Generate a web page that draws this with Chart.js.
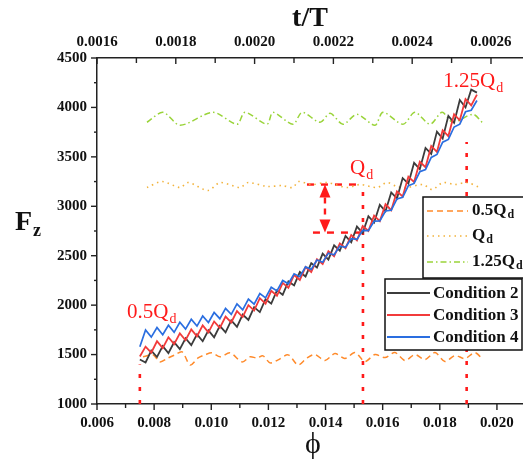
<!DOCTYPE html>
<html>
<head>
<meta charset="utf-8">
<script src="https://cdn.jsdelivr.net/npm/chart.js@4.4.1/dist/chart.umd.min.js"></script>
<style>
  html, body { margin: 0; padding: 0; background: #fff; overflow: hidden; }
  #wrap { width: 560px; height: 465px; }
</style>
</head>
<body>
<div id="wrap"><canvas id="fzChart" width="560" height="465"></canvas></div>
<script>
// phi positions of the three conditions
const phi = [0.0075,0.0077,0.0079,0.0081,0.0083,0.0085,0.0087,0.0089,0.0091,0.0093,
  0.0095,0.0097,0.0099,0.0101,0.0103,0.0105,0.0107,0.0109,0.0111,0.0113,
  0.0115,0.0117,0.0119,0.0121,0.0123,0.0125,0.0127,0.0129,0.0131,0.0133,
  0.0135,0.0137,0.0139,0.0141,0.0143,0.0145,0.0147,0.0149,0.0151,0.0153,
  0.0155,0.0157,0.0159,0.0161,0.0163,0.0165,0.0167,0.0169,0.0171,0.0173,
  0.0175,0.0177,0.0179,0.0181,0.0183,0.0185,0.0187,0.0189,0.0191,0.0193];

const condition2 = [1450,1420,1540,1475,1585,1515,1625,1555,1665,1595,
  1705,1635,1745,1675,1790,1725,1845,1780,1905,1850,
  1980,1930,2060,2015,2150,2105,2240,2200,2335,2290,
  2425,2380,2520,2460,2605,2550,2700,2635,2795,2730,
  2900,2835,3015,2950,3140,3080,3285,3230,3440,3375,
  3590,3530,3755,3685,3915,3845,4075,4000,4180,4150];

const condition3 = [1480,1580,1520,1635,1565,1675,1605,1715,1645,1755,
  1685,1795,1725,1835,1770,1885,1825,1940,1880,2000,
  1945,2070,2015,2145,2095,2225,2175,2305,2255,2385,
  2335,2465,2415,2545,2495,2625,2575,2710,2655,2800,
  2750,2905,2850,3020,2960,3150,3100,3300,3245,3450,
  3395,3610,3550,3770,3710,3930,3870,4085,4020,4130];

const condition4 = [1580,1749,1677,1773,1701,1797,1725,1827,1758,1857,
  1788,1890,1824,1926,1863,1967,1906,2012,1953,2062,
  2010,2118,2074,2181,2144,2249,2216,2317,2288,2387,
  2362,2456,2434,2526,2509,2597,2585,2673,2665,2756,
  2754,2849,2853,2952,2961,3074,3091,3209,3231,3349,
  3371,3494,3524,3649,3676,3802,3831,3956,3971,4070];

// reference load lines
const phiHalfQd = [0.00761,0.00796,0.0082,0.00849,0.00873,0.00898,0.00926,0.00954,0.00978,0.01003,
  0.01031,0.01066,0.01108,0.01136,0.0116,0.01181,0.01206,0.01234,0.01269,0.01304,
  0.01335,0.01363,0.01398,0.01433,0.01468,0.01503,0.01538,0.01573,0.01608,0.01643,
  0.01678,0.01713,0.01748,0.01783,0.01818,0.01853,0.01888,0.01923,0.01951];
const halfQd = [1477,1497,1426,1466,1497,1527,1395,1466,1497,1517,
  1477,1517,1426,1477,1466,1487,1416,1446,1497,1395,
  1466,1500,1440,1510,1460,1520,1430,1500,1470,1520,
  1440,1500,1450,1520,1430,1490,1460,1520,1450];

const phiQd = [0.00775,0.00828,0.00891,0.00919,0.00989,0.01031,0.01101,0.01129,0.01198,0.01248,
  0.01286,0.01304,0.01353,0.01405,0.01475,0.01521,0.0158,0.01615,0.0165,0.01685,
  0.01741,0.01773,0.01811,0.01853,0.01895,0.0194];
const qd = [3190,3250,3190,3240,3160,3240,3190,3240,3200,3210,
  3190,3250,3220,3240,3190,3220,3190,3240,3200,3190,
  3220,3170,3240,3220,3240,3190];

const phiQuarterQd = [0.00775,0.00831,0.00891,0.01006,0.0109,0.01118,0.01195,0.01216,0.01286,0.01318,
  0.01381,0.01416,0.01461,0.0151,0.01573,0.01601,0.01671,0.01713,0.01766,0.01808,
  0.01846,0.01916,0.01951];
const quarterQd = [3850,3950,3820,3950,3830,3950,3830,3950,3830,3950,
  3850,3940,3830,3930,3820,3950,3830,3950,3830,3950,
  3850,3930,3840];

// red markers: vertical dotted lines and the Qd bracket
const markerPhi = [0.0075, 0.01531, 0.01894];
const markerTop = [1400, 3220, 3650];
const markerLabels = ['0.5Q', 'Q', '1.25Q'];
const bracketPhi = [0.01335, 0.01356, 0.01398];
const bracketF = [3220, 2734];

// axis ranges
const phiRange = [0.006, 0.021];
const tRange = [0.0016, 0.0026876];
const fRange = [1000, 4500];

const serif = '"Liberation Serif", "Times New Roman", serif';
const RED = '#ff1a1a';

function pts(xs, ys) {
    return xs.map((x, i) => ({ x: x, y: ys[i] }));
}

const datasets = [
    { label: 'Condition 2', data: pts(phi, condition2), borderColor: '#3c3c3c', borderWidth: 1.8, order: 3 },
    { label: 'Condition 3', data: pts(phi, condition3), borderColor: '#f23b3b', borderWidth: 1.8, order: 2 },
    { label: 'Condition 4', data: pts(phi, condition4), borderColor: '#2a6ee0', borderWidth: 1.7, order: 1 },
    { label: '0.5Qd', data: pts(phiHalfQd, halfQd), borderColor: '#ff8a2a', borderWidth: 1.5, borderDash: [6, 4], tension: 0.3, order: 5 },
    { label: 'Qd', data: pts(phiQd, qd), borderColor: '#f2b33c', borderWidth: 1.6, borderDash: [1.5, 4], tension: 0.3, order: 5 },
    { label: '1.25Qd', data: pts(phiQuarterQd, quarterQd), borderColor: '#9ad43a', borderWidth: 1.5, borderDash: [6, 3, 1.5, 3], tension: 0.3, order: 5 }
];

markerPhi.forEach((p, i) => {
    datasets.push({ label: 'marker' + i, data: [{ x: p, y: fRange[0] }, { x: p, y: markerTop[i] }],
        borderColor: RED, borderWidth: 2.6, borderDash: [4, 9], order: 10 });
});
datasets.push({ label: 'bracketTop', data: [{ x: bracketPhi[0], y: bracketF[0] }, { x: markerPhi[1], y: bracketF[0] }],
    borderColor: RED, borderWidth: 2.4, borderDash: [7, 7], order: 10 });
datasets.push({ label: 'bracketBottom', data: [{ x: bracketPhi[1], y: bracketF[1] }, { x: markerPhi[1], y: bracketF[1] }],
    borderColor: RED, borderWidth: 2.4, borderDash: [7, 7], order: 10 });

function withSub(ctx, main, sub, x, y, size, subSize, weight) {
    ctx.font = weight + ' ' + size + 'px ' + serif;
    ctx.fillText(main, x, y);
    const w = ctx.measureText(main).width;
    ctx.font = weight + ' ' + subSize + 'px ' + serif;
    ctx.fillText(sub, x + w + 1, y + subSize * 0.35);
}

function line(ctx, x1, y1, x2, y2) {
    ctx.beginPath();
    ctx.moveTo(x1, y1);
    ctx.lineTo(x2, y2);
    ctx.stroke();
}

const decorPlugin = {
    id: 'decor',
    afterDraw(chart) {
        const ctx = chart.ctx;
        const area = chart.chartArea;
        const sx = chart.scales.x, sy = chart.scales.y, st = chart.scales.x2;
        ctx.save();

        // tick marks
        ctx.strokeStyle = '#222';
        ctx.lineWidth = 1.4;
        sx.ticks.forEach(t => {
            const px = sx.getPixelForValue(t.value);
            const major = Math.round(t.value * 1000) % 2 === 0;
            line(ctx, px, area.bottom, px, area.bottom + (major ? 6 : 4));
        });
        sy.ticks.forEach(t => {
            const py = sy.getPixelForValue(t.value);
            const len = t.value % 500 === 0 ? 6 : 3;
            line(ctx, area.left - len, py, area.left, py);
        });
        st.ticks.forEach(t => {
            const px = st.getPixelForValue(t.value);
            const major = Math.round(t.value * 10000) % 2 === 0;
            line(ctx, px, area.top, px, area.top + (major ? 6 : 5));
        });

        // double arrow between Qd and the curve
        const ax = sx.getPixelForValue(bracketPhi[2]);
        const yTop = sy.getPixelForValue(bracketF[0]);
        const yBot = sy.getPixelForValue(bracketF[1]);
        ctx.fillStyle = RED;
        ctx.strokeStyle = RED;
        ctx.beginPath();
        ctx.moveTo(ax, yTop);
        ctx.lineTo(ax - 5.5, yTop + 13);
        ctx.lineTo(ax + 5.5, yTop + 13);
        ctx.closePath();
        ctx.fill();
        ctx.beginPath();
        ctx.moveTo(ax, yBot);
        ctx.lineTo(ax - 5.5, yBot - 13);
        ctx.lineTo(ax + 5.5, yBot - 13);
        ctx.closePath();
        ctx.fill();
        ctx.lineWidth = 2.4;
        ctx.setLineDash([6, 5]);
        line(ctx, ax, yTop + 13, ax, yBot - 13);
        ctx.setLineDash([]);

        // red labels
        ctx.textBaseline = 'alphabetic';
        ctx.textAlign = 'left';
        const labelPos = [[0.00705, 1872], [0.01486, 3322], [0.01812, 4204]];
        markerLabels.forEach((txt, i) => {
            withSub(ctx, txt, 'd', sx.getPixelForValue(labelPos[i][0]), sy.getPixelForValue(labelPos[i][1]), 21, 14, 'normal');
        });

        // legend boxes
        ctx.lineWidth = 1.5;
        ctx.strokeStyle = '#111';
        ctx.fillStyle = '#fff';
        ctx.fillRect(423, 197, 120, 81);
        ctx.strokeRect(423, 197, 120, 81);
        ctx.fillRect(385, 279, 137, 71);
        ctx.strokeRect(385, 279, 137, 71);

        const ds = chart.data.datasets;
        const refRows = [[3, 211], [4, 236], [5, 262]];
        refRows.forEach(r => {
            const d = ds[r[0]];
            ctx.strokeStyle = d.borderColor;
            ctx.lineWidth = 1.6;
            ctx.setLineDash(d.borderDash);
            line(ctx, 427, r[1], 468, r[1]);
        });
        ctx.setLineDash([]);
        ctx.fillStyle = '#111';
        ctx.textBaseline = 'middle';
        withSub(ctx, '0.5Q', 'd', 472, 211, 17, 12, 'bold');
        withSub(ctx, 'Q', 'd', 472, 236, 17, 12, 'bold');
        withSub(ctx, '1.25Q', 'd', 472, 262, 17, 12, 'bold');

        const condRows = [[0, 293], [1, 315], [2, 337]];
        condRows.forEach(r => {
            const d = ds[r[0]];
            ctx.strokeStyle = d.borderColor;
            ctx.lineWidth = 1.8;
            line(ctx, 387, r[1], 430, r[1]);
            ctx.font = 'bold 17px ' + serif;
            ctx.fillStyle = '#111';
            ctx.fillText(d.label, 433, r[1] + 1);
        });

        // axis titles
        ctx.fillStyle = '#111';
        ctx.textAlign = 'center';
        ctx.font = 'bold 28px ' + serif;
        ctx.fillText('t/T', 310, 19);
        ctx.font = 'normal 30px ' + serif;
        ctx.fillText('\u03D5', 313, 445);
        ctx.textAlign = 'left';
        ctx.textBaseline = 'alphabetic';
        ctx.font = 'bold 28px ' + serif;
        ctx.fillText('F', 15, 230);
        ctx.font = 'bold 18px ' + serif;
        ctx.fillText('z', 33, 236);
        ctx.restore();
    }
};

const tickFont = { family: serif, size: 15, weight: 'bold' };

new Chart(document.getElementById('fzChart').getContext('2d'), {
    type: 'line',
    data: { datasets: datasets },
    options: {
        responsive: false,
        animation: false,
        devicePixelRatio: 1,
        layout: { padding: { left: 0, right: 34.5, top: 0, bottom: 0 } },
        elements: { point: { radius: 0 }, line: { tension: 0 } },
        plugins: { legend: { display: false }, tooltip: { enabled: false } },
        scales: {
            x: {
                type: 'linear', position: 'bottom', min: phiRange[0], max: phiRange[1],
                afterFit: s => { s.height = 61; },
                grid: { display: false, drawTicks: false },
                border: { display: true, color: '#222', width: 1.5 },
                ticks: {
                    stepSize: 0.001, autoSkip: false, maxRotation: 0, includeBounds: false,
                    padding: 10, color: '#111', font: tickFont,
                    callback: v => {
                        const k = Math.round(v * 1000);
                        return k % 2 === 0 ? (k / 1000).toFixed(3) : '';
                    }
                }
            },
            x2: {
                type: 'linear', position: 'top', min: tRange[0], max: tRange[1],
                afterFit: s => { s.height = 58; },
                grid: { display: false, drawTicks: false },
                border: { display: true, color: '#222', width: 1.5 },
                ticks: {
                    stepSize: 0.0001, autoSkip: false, maxRotation: 0, includeBounds: false,
                    padding: 7, color: '#111', font: tickFont,
                    callback: v => {
                        const k = Math.round(v * 10000);
                        return k % 2 === 0 ? (k / 10000).toFixed(4) : '';
                    }
                }
            },
            y: {
                type: 'linear', min: fRange[0], max: fRange[1],
                afterFit: s => { s.width = 97; },
                grid: { display: false, drawTicks: false },
                border: { display: true, color: '#222', width: 1.5 },
                ticks: {
                    stepSize: 250, autoSkip: false, includeBounds: false,
                    padding: 10, color: '#111', font: tickFont,
                    callback: v => (v % 500 === 0 ? String(v) : '')
                }
            }
        }
    },
    plugins: [decorPlugin]
});
</script>
</body>
</html>
